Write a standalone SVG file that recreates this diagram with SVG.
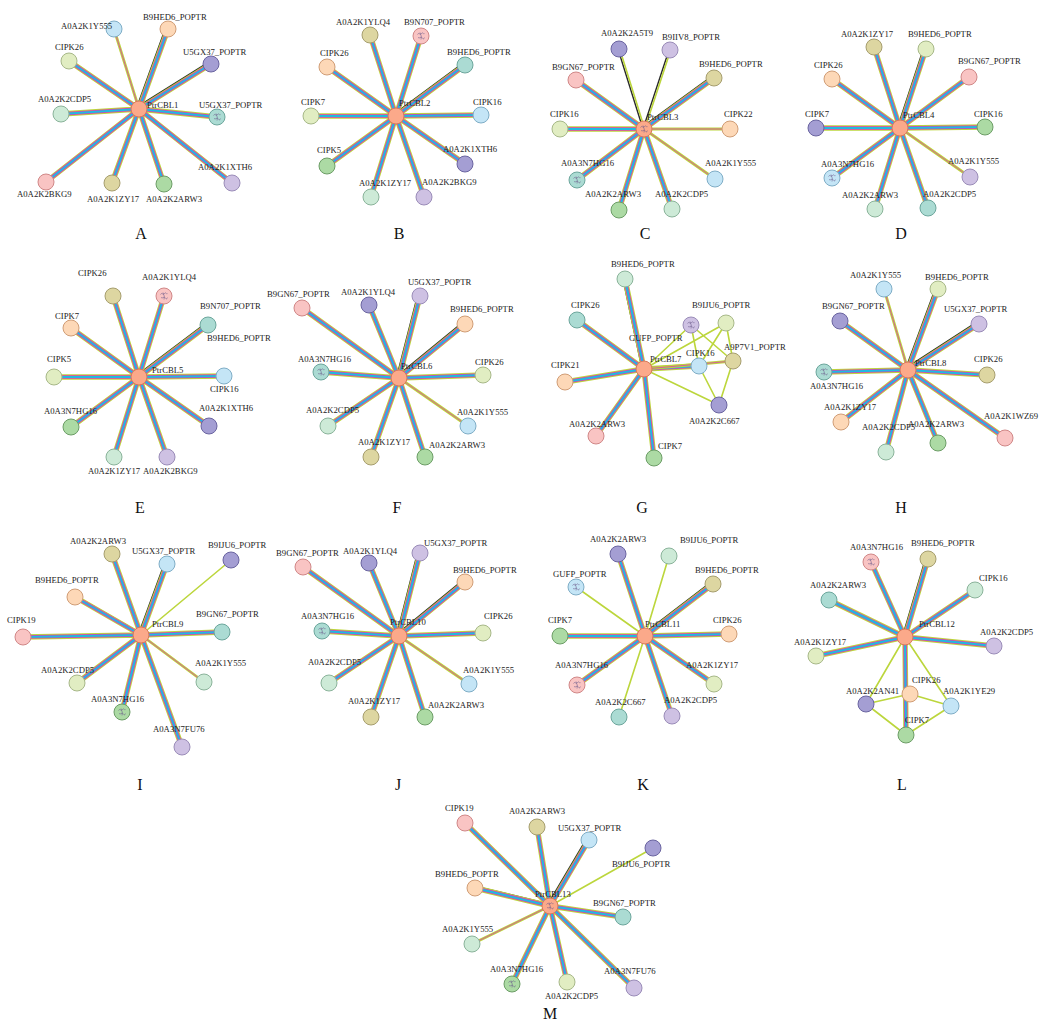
<svg xmlns="http://www.w3.org/2000/svg" xmlns:xlink="http://www.w3.org/1999/xlink" width="1040" height="1021" viewBox="0 0 1040 1021">
<style>
text{font-family:"Liberation Serif","Times New Roman",serif;font-size:8.7px;fill:#222}
.lt{font-size:16px;fill:#111;text-anchor:middle}
.n circle{stroke-width:1}
.ct{fill:#fba98a;stroke:#d8795b}
.lb{fill:#c4e5f6;stroke:#7fadc6}
.pe{fill:#fdd8b7;stroke:#d09d76}
.pu{fill:#a49ed3;stroke:#6a64a0}
.te{fill:#abdbd3;stroke:#6ca69c}
.yg{fill:#e1edc2;stroke:#a7b888}
.lg{fill:#cdead7;stroke:#8ab39a}
.pk{fill:#f9c4c3;stroke:#d08787}
.kh{fill:#ddd6a1;stroke:#a69e6e}
.gr{fill:#acdaa4;stroke:#6c9d66}
.la{fill:#cec1e3;stroke:#9a8cb8}
.icn{fill:none;stroke:#6a5a8a;stroke-width:0.7;opacity:0.8}
.k1{fill:none;stroke:#2a2a2a;stroke-width:3}
.g1{fill:none;stroke:#bcd63c;stroke-width:5.4}
.m1{fill:none;stroke:#db40b2;stroke-width:3.6}
.c1{fill:none;stroke:#1fbae2;stroke-width:2}
.g2{fill:none;stroke:#bcd63c;stroke-width:2.8}
.m2{fill:none;stroke:#db40b2;stroke-width:0.8}
.g3{fill:none;stroke:#bcd63c;stroke-width:1.6}
.k3{fill:none;stroke:#2a2a2a;stroke-width:1.4}
</style>
<defs>
<path id="fl" d="M139 109L69 61M139 109L61 114M139 109L217 117M139 109L232 183M139 109L46 182M139 109L112 183M139 109L164 184
M396 116L370 35M396 116L421 36M396 116L327 67M396 116L311 116M396 116L481 115M396 116L327 166M396 116L465 164M396 116L371 197M396 116L424 197
M644 129L576 80M644 129L560 129M644 129L577 180M644 129L619 210M644 129L672 209
M900 128L874 47M900 128L969 77M900 128L832 79M900 128L816 128M900 128L985 127M900 128L832 178M900 128L875 209M900 128L928 208
M139 377L113 296M139 377L164 296M139 377L71 328M139 377L54 377M139 377L224 376M139 377L71 427M139 377L209 426M139 377L114 457M139 377L167 457
M399 378L302 308M399 378L369 305M399 378L321 372M399 378L483 375M399 378L328 426M399 378L371 457M399 378L425 457
M644 369L577 320M644 369L565 382M644 369L596 436M644 369L654 458M644 369L699 366
M908 370L840 321M908 370L824 372M908 370L987 375M908 370L841 422M908 370L886 452M908 370L938 443M908 370L1005 438
M141 635L112 554M141 635L23 637M141 635L222 632M141 635L77 683M141 635L122 712M141 635L182 747
M399 636L303 567M399 636L369 563M399 636L322 631M399 636L483 633M399 636L329 683M399 636L371 717M399 636L425 717
M645 636L618 554M645 636L560 636M645 636L729 634M645 636L577 685M645 636L714 684M645 636L672 716
M905 637L871 562M905 637L975 590M905 637L829 600M905 637L994 646M905 637L816 656M905 637L906 735
M550 906L465 823M550 906L537 827M550 906L623 917M550 906L512 984M550 906L567 982M550 906L634 988"/>
<path id="dk" d="M139 109L168 29M139 109L211 64M396 116L465 65M644 129L714 78M900 128L926 49M139 377L208 325M399 378L420 296M399 378L465 324M644 369L625 279M908 370L938 289M908 370L979 324M141 635L167 564M141 635L75 597M399 636L420 553M399 636L465 582M645 636L713 584M905 637L928 559M550 906L589 840M550 906L475 888"/>
<path id="dn" d="M644 129L619 49M644 129L670 50"/>
<path id="tw" d="M139 109L114 29M644 129L730 129M644 129L715 179M900 128L970 177M399 378L468 426M644 369L733 361M908 370L884 289M141 635L204 682M399 636L469 684M550 906L472 944"/>
<path id="th" d="M644 369L691 325M644 369L726 323M644 369L719 405M691 325L699 366M691 325L733 361M726 323L699 366M726 323L733 361M699 366L719 405M733 361L719 405
M141 635L231 560
M645 636L669 556M645 636L576 587M645 636L619 717
M905 637L866 704M905 637L951 706M866 704L910 694M910 694L951 706M866 704L906 735M951 706L906 735
M550 906L653 848"/>
<path id="ic" d="M-3.5 -1.5c1.5-2.5 2.5 1 4-1s2 1.5 3 0M-3 1.5c1.5 1.5 3-1.5 4.5 0.5s1.5 0 2-0.5M-1 -3.5c0.5 2 2 4 1 7"/>
</defs>

<g id="connectors">
<use href="#dk" class="k1" transform="translate(-1.4,-1.4)"/>
<use href="#dn" class="k3" transform="translate(-1,0)"/>
<use href="#dn" class="g3" transform="translate(0.7,0)"/>
<use href="#fl" class="g1"/><use href="#dk" class="g1"/>
<use href="#fl" class="m1"/><use href="#dk" class="m1"/>
<use href="#fl" class="c1"/><use href="#dk" class="c1"/>
<use href="#tw" class="g2"/><use href="#tw" class="m2"/>
<use href="#th" class="g3"/>
</g>

<!-- Panel A -->
<g id="A-nodes">
<g id="A-Y555" class="n"><circle class="lb" cx="114" cy="29" r="8"/><text x="61" y="28.5">A0A2K1Y555</text></g>
<g id="A-B9HED6" class="n"><circle class="pe" cx="168" cy="29" r="8"/><text x="143" y="20">B9HED6_POPTR</text></g>
<g id="A-U5GX37a" class="n"><circle class="pu" cx="211" cy="64" r="8"/><text x="183" y="55">U5GX37_POPTR</text></g>
<g id="A-CIPK26" class="n"><circle class="yg" cx="69" cy="61" r="8"/><text x="55" y="50">CIPK26</text></g>
<g id="A-CDP5" class="n"><circle class="lg" cx="61" cy="114" r="8"/><text x="38" y="102">A0A2K2CDP5</text></g>
<g id="A-U5GX37b" class="n"><circle class="te" cx="217" cy="117" r="8"/><use href="#ic" x="217" y="117" class="icn"/><text x="199" y="107.5">U5GX37_POPTR</text></g>
<g id="A-XTH6" class="n"><circle class="la" cx="232" cy="183" r="8"/><text x="198" y="170">A0A2K1XTH6</text></g>
<g id="A-BKG9" class="n"><circle class="pk" cx="46" cy="182" r="8"/><text x="17" y="197">A0A2K2BKG9</text></g>
<g id="A-ZY17" class="n"><circle class="kh" cx="112" cy="183" r="8"/><text x="87" y="202">A0A2K1ZY17</text></g>
<g id="A-ARW3" class="n"><circle class="gr" cx="164" cy="184" r="8"/><text x="146" y="202">A0A2K2ARW3</text></g>
<g id="A-CBL1" class="n"><circle class="ct" cx="139" cy="109" r="8"/><text x="147" y="108">PtrCBL1</text></g>
</g>

<!-- Panel B -->
<g id="B-nodes">
<g id="B-YLQ4" class="n"><circle class="kh" cx="370" cy="35" r="8"/><text x="336" y="25">A0A2K1YLQ4</text></g>
<g id="B-B9N707" class="n"><circle class="pk" cx="421" cy="36" r="8"/><use href="#ic" x="421" y="36" class="icn"/><text x="404" y="25">B9N707_POPTR</text></g>
<g id="B-B9HED6" class="n"><circle class="te" cx="465" cy="65" r="8"/><text x="447" y="55">B9HED6_POPTR</text></g>
<g id="B-CIPK26" class="n"><circle class="pe" cx="327" cy="67" r="8"/><text x="320" y="56">CIPK26</text></g>
<g id="B-CIPK7" class="n"><circle class="yg" cx="311" cy="116" r="8"/><text x="301" y="105">CIPK7</text></g>
<g id="B-CIPK16" class="n"><circle class="lb" cx="481" cy="115" r="8"/><text x="473" y="105">CIPK16</text></g>
<g id="B-CIPK5" class="n"><circle class="gr" cx="327" cy="166" r="8"/><text x="317" y="153">CIPK5</text></g>
<g id="B-XTH6" class="n"><circle class="pu" cx="465" cy="164" r="8"/><text x="443" y="152">A0A2K1XTH6</text></g>
<g id="B-ZY17" class="n"><circle class="lg" cx="371" cy="197" r="8"/><text x="359" y="186">A0A2K1ZY17</text></g>
<g id="B-BKG9" class="n"><circle class="la" cx="424" cy="197" r="8"/><text x="422" y="185">A0A2K2BKG9</text></g>
<g id="B-CBL2" class="n"><circle class="ct" cx="396" cy="116" r="8"/><text x="399" y="106">PtrCBL2</text></g>
</g>

<!-- Panel C -->
<g id="C-nodes">
<g id="C-A5T9" class="n"><circle class="pu" cx="619" cy="49" r="8"/><text x="601" y="36">A0A2K2A5T9</text></g>
<g id="C-B9IIV8" class="n"><circle class="la" cx="670" cy="50" r="8"/><text x="662" y="40">B9IIV8_POPTR</text></g>
<g id="C-B9HED6" class="n"><circle class="kh" cx="714" cy="78" r="8"/><text x="699" y="67">B9HED6_POPTR</text></g>
<g id="C-B9GN67" class="n"><circle class="pk" cx="576" cy="80" r="8"/><text x="552" y="70">B9GN67_POPTR</text></g>
<g id="C-CIPK16" class="n"><circle class="yg" cx="560" cy="129" r="8"/><text x="550" y="117">CIPK16</text></g>
<g id="C-CIPK22" class="n"><circle class="pe" cx="730" cy="129" r="8"/><text x="724" y="117">CIPK22</text></g>
<g id="C-HG16" class="n"><circle class="te" cx="577" cy="180" r="8"/><use href="#ic" x="577" y="180" class="icn"/><text x="561" y="166">A0A3N7HG16</text></g>
<g id="C-Y555" class="n"><circle class="lb" cx="715" cy="179" r="8"/><text x="705" y="166">A0A2K1Y555</text></g>
<g id="C-ARW3" class="n"><circle class="gr" cx="619" cy="210" r="8"/><text x="585" y="197">A0A2K2ARW3</text></g>
<g id="C-CDP5" class="n"><circle class="lg" cx="672" cy="209" r="8"/><text x="655" y="197">A0A2K2CDP5</text></g>
<g id="C-CBL3" class="n"><circle class="ct" cx="644" cy="129" r="8"/><use href="#ic" x="644" y="129" class="icn"/><text x="647" y="120">PtrCBL3</text></g>
</g>

<!-- Panel D -->
<g id="D-nodes">
<g id="D-ZY17" class="n"><circle class="kh" cx="874" cy="47" r="8"/><text x="841" y="37">A0A2K1ZY17</text></g>
<g id="D-B9HED6" class="n"><circle class="yg" cx="926" cy="49" r="8"/><text x="908" y="37">B9HED6_POPTR</text></g>
<g id="D-B9GN67" class="n"><circle class="pk" cx="969" cy="77" r="8"/><text x="958" y="64">B9GN67_POPTR</text></g>
<g id="D-CIPK26" class="n"><circle class="pe" cx="832" cy="79" r="8"/><text x="814" y="68">CIPK26</text></g>
<g id="D-CIPK7" class="n"><circle class="pu" cx="816" cy="128" r="8"/><text x="805" y="117">CIPK7</text></g>
<g id="D-CIPK16" class="n"><circle class="gr" cx="985" cy="127" r="8"/><text x="974" y="117">CIPK16</text></g>
<g id="D-HG16" class="n"><circle class="lb" cx="832" cy="178" r="8"/><use href="#ic" x="832" y="178" class="icn"/><text x="821" y="167">A0A3N7HG16</text></g>
<g id="D-Y555" class="n"><circle class="la" cx="970" cy="177" r="8"/><text x="948" y="164">A0A2K1Y555</text></g>
<g id="D-ARW3" class="n"><circle class="lg" cx="875" cy="209" r="8"/><text x="842" y="198">A0A2K2ARW3</text></g>
<g id="D-CDP5" class="n"><circle class="te" cx="928" cy="208" r="8"/><text x="923" y="197">A0A2K2CDP5</text></g>
<g id="D-CBL4" class="n"><circle class="ct" cx="900" cy="128" r="8"/><text x="903" y="118">PtrCBL4</text></g>
</g>

<!-- Panel E -->
<g id="E-nodes">
<g id="E-CIPK26" class="n"><circle class="kh" cx="113" cy="296" r="8"/><text x="78" y="276">CIPK26</text></g>
<g id="E-YLQ4" class="n"><circle class="pk" cx="164" cy="296" r="8"/><use href="#ic" x="164" y="296" class="icn"/><text x="142" y="280">A0A2K1YLQ4</text></g>
<g id="E-B9N707" class="n"><circle class="te" cx="208" cy="325" r="8"/><text x="200" y="309">B9N707_POPTR</text></g>
<g id="E-B9HED6" class="n"><text x="207" y="341">B9HED6_POPTR</text></g>
<g id="E-CIPK7" class="n"><circle class="pe" cx="71" cy="328" r="8"/><text x="55" y="319">CIPK7</text></g>
<g id="E-CIPK5" class="n"><circle class="yg" cx="54" cy="377" r="8"/><text x="47" y="362">CIPK5</text></g>
<g id="E-CIPK16" class="n"><circle class="lb" cx="224" cy="376" r="8"/><text x="210" y="392">CIPK16</text></g>
<g id="E-HG16" class="n"><circle class="gr" cx="71" cy="427" r="8"/><text x="44" y="414">A0A3N7HG16</text></g>
<g id="E-XTH6" class="n"><circle class="pu" cx="209" cy="426" r="8"/><text x="199" y="411">A0A2K1XTH6</text></g>
<g id="E-ZY17" class="n"><circle class="lg" cx="114" cy="457" r="8"/><text x="88" y="474">A0A2K1ZY17</text></g>
<g id="E-BKG9" class="n"><circle class="la" cx="167" cy="457" r="8"/><text x="143" y="474">A0A2K2BKG9</text></g>
<g id="E-CBL5" class="n"><circle class="ct" cx="139" cy="377" r="8"/><text x="152" y="373">PtrCBL5</text></g>
</g>

<!-- Panel F -->
<g id="F-nodes">
<g id="F-B9GN67" class="n"><circle class="pk" cx="302" cy="308" r="8"/><text x="267" y="297">B9GN67_POPTR</text></g>
<g id="F-YLQ4" class="n"><circle class="pu" cx="369" cy="305" r="8"/><text x="341" y="295">A0A2K1YLQ4</text></g>
<g id="F-U5GX37" class="n"><circle class="la" cx="420" cy="296" r="8"/><text x="408" y="285">U5GX37_POPTR</text></g>
<g id="F-B9HED6" class="n"><circle class="pe" cx="465" cy="324" r="8"/><text x="450" y="312">B9HED6_POPTR</text></g>
<g id="F-HG16" class="n"><circle class="te" cx="321" cy="372" r="8"/><use href="#ic" x="321" y="372" class="icn"/><text x="298" y="362">A0A3N7HG16</text></g>
<g id="F-CIPK26" class="n"><circle class="yg" cx="483" cy="375" r="8"/><text x="475" y="365">CIPK26</text></g>
<g id="F-CDP5" class="n"><circle class="lg" cx="328" cy="426" r="8"/><text x="306" y="413">A0A2K2CDP5</text></g>
<g id="F-Y555" class="n"><circle class="lb" cx="468" cy="426" r="8"/><text x="457" y="415">A0A2K1Y555</text></g>
<g id="F-ZY17" class="n"><circle class="kh" cx="371" cy="457" r="8"/><text x="358" y="445">A0A2K1ZY17</text></g>
<g id="F-ARW3" class="n"><circle class="gr" cx="425" cy="457" r="8"/><text x="429" y="448">A0A2K2ARW3</text></g>
<g id="F-CBL6" class="n"><circle class="ct" cx="399" cy="378" r="8"/><text x="401" y="369">PtrCBL6</text></g>
</g>

<!-- Panel G -->
<g id="G-nodes">
<g id="G-B9HED6" class="n"><circle class="lg" cx="625" cy="279" r="8"/><text x="611" y="267">B9HED6_POPTR</text></g>
<g id="G-CIPK26" class="n"><circle class="te" cx="577" cy="320" r="8"/><text x="571" y="308">CIPK26</text></g>
<g id="G-B9IJU6" class="n"><circle class="la" cx="691" cy="325" r="8"/><use href="#ic" x="691" y="325" class="icn"/><text x="692" y="308">B9IJU6_POPTR</text></g>
<g id="G-GUFP" class="n"><circle class="yg" cx="726" cy="323" r="8"/><text x="629" y="341">GUFP_POPTR</text></g>
<g id="G-A9P7V1" class="n"><circle class="kh" cx="733" cy="361" r="8"/><text x="724" y="350">A9P7V1_POPTR</text></g>
<g id="G-CIPK16" class="n"><circle class="lb" cx="699" cy="366" r="8"/><text x="686" y="356">CIPK16</text></g>
<g id="G-CIPK21" class="n"><circle class="pe" cx="565" cy="382" r="8"/><text x="551" y="368">CIPK21</text></g>
<g id="G-C667" class="n"><circle class="pu" cx="719" cy="405" r="8"/><text x="689" y="424">A0A2K2C667</text></g>
<g id="G-ARW3" class="n"><circle class="pk" cx="596" cy="436" r="8"/><text x="569" y="427">A0A2K2ARW3</text></g>
<g id="G-CIPK7" class="n"><circle class="gr" cx="654" cy="458" r="8"/><text x="658" y="449">CIPK7</text></g>
<g id="G-CBL7" class="n"><circle class="ct" cx="644" cy="369" r="8"/><text x="650" y="362">PtrCBL7</text></g>
</g>

<!-- Panel H -->
<g id="H-nodes">
<g id="H-Y555" class="n"><circle class="lb" cx="884" cy="289" r="8"/><text x="850" y="278">A0A2K1Y555</text></g>
<g id="H-B9HED6" class="n"><circle class="yg" cx="938" cy="289" r="8"/><text x="925" y="280">B9HED6_POPTR</text></g>
<g id="H-U5GX37" class="n"><circle class="la" cx="979" cy="324" r="8"/><text x="944" y="312">U5GX37_POPTR</text></g>
<g id="H-B9GN67" class="n"><circle class="pu" cx="840" cy="321" r="8"/><text x="822" y="309">B9GN67_POPTR</text></g>
<g id="H-HG16" class="n"><circle class="te" cx="824" cy="372" r="8"/><use href="#ic" x="824" y="372" class="icn"/><text x="810" y="389">A0A3N7HG16</text></g>
<g id="H-CIPK26" class="n"><circle class="kh" cx="987" cy="375" r="8"/><text x="974" y="362">CIPK26</text></g>
<g id="H-ZY17" class="n"><circle class="pe" cx="841" cy="422" r="8"/><text x="824" y="410">A0A2K1ZY17</text></g>
<g id="H-CDP5" class="n"><circle class="lg" cx="886" cy="452" r="8"/><text x="862" y="430">A0A2K2CDP5</text></g>
<g id="H-ARW3" class="n"><circle class="gr" cx="938" cy="443" r="8"/><text x="908" y="427">A0A2K2ARW3</text></g>
<g id="H-WZ69" class="n"><circle class="pk" cx="1005" cy="438" r="8"/><text x="984" y="419">A0A2K1WZ69</text></g>
<g id="H-CBL8" class="n"><circle class="ct" cx="908" cy="370" r="8"/><text x="915" y="366">PtrCBL8</text></g>
</g>

<!-- Panel I -->
<g id="I-nodes">
<g id="I-ARW3" class="n"><circle class="kh" cx="112" cy="554" r="8"/><text x="70" y="544">A0A2K2ARW3</text></g>
<g id="I-U5GX37" class="n"><circle class="lb" cx="167" cy="564" r="8"/><text x="132" y="554">U5GX37_POPTR</text></g>
<g id="I-B9IJU6" class="n"><circle class="pu" cx="231" cy="560" r="8"/><text x="208" y="548">B9IJU6_POPTR</text></g>
<g id="I-B9HED6" class="n"><circle class="pe" cx="75" cy="597" r="8"/><text x="35" y="583">B9HED6_POPTR</text></g>
<g id="I-CIPK19" class="n"><circle class="pk" cx="23" cy="637" r="8"/><text x="7" y="623">CIPK19</text></g>
<g id="I-B9GN67" class="n"><circle class="te" cx="222" cy="632" r="8"/><text x="196" y="617">B9GN67_POPTR</text></g>
<g id="I-CDP5" class="n"><circle class="yg" cx="77" cy="683" r="8"/><text x="41" y="673">A0A2K2CDP5</text></g>
<g id="I-Y555" class="n"><circle class="lg" cx="204" cy="682" r="8"/><text x="195" y="666">A0A2K1Y555</text></g>
<g id="I-HG16" class="n"><circle class="gr" cx="122" cy="712" r="8"/><use href="#ic" x="122" y="712" class="icn"/><text x="91" y="702">A0A3N7HG16</text></g>
<g id="I-FU76" class="n"><circle class="la" cx="182" cy="747" r="8"/><text x="153" y="732">A0A3N7FU76</text></g>
<g id="I-CBL9" class="n"><circle class="ct" cx="141" cy="635" r="8"/><text x="152" y="627">PtrCBL9</text></g>
</g>

<!-- Panel J -->
<g id="J-nodes">
<g id="J-B9GN67" class="n"><circle class="pk" cx="303" cy="567" r="8"/><text x="276" y="556">B9GN67_POPTR</text></g>
<g id="J-YLQ4" class="n"><circle class="pu" cx="369" cy="563" r="8"/><text x="343" y="554">A0A2K1YLQ4</text></g>
<g id="J-U5GX37" class="n"><circle class="la" cx="420" cy="553" r="8"/><text x="424" y="546">U5GX37_POPTR</text></g>
<g id="J-B9HED6" class="n"><circle class="pe" cx="465" cy="582" r="8"/><text x="453" y="573">B9HED6_POPTR</text></g>
<g id="J-HG16" class="n"><circle class="te" cx="322" cy="631" r="8"/><use href="#ic" x="322" y="631" class="icn"/><text x="301" y="619">A0A3N7HG16</text></g>
<g id="J-CIPK26" class="n"><circle class="yg" cx="483" cy="633" r="8"/><text x="484" y="619">CIPK26</text></g>
<g id="J-CDP5" class="n"><circle class="lg" cx="329" cy="683" r="8"/><text x="308" y="665">A0A2K2CDP5</text></g>
<g id="J-Y555" class="n"><circle class="lb" cx="469" cy="684" r="8"/><text x="463" y="673">A0A2K1Y555</text></g>
<g id="J-ZY17" class="n"><circle class="kh" cx="371" cy="717" r="8"/><text x="348" y="704">A0A2K1ZY17</text></g>
<g id="J-ARW3" class="n"><circle class="gr" cx="425" cy="717" r="8"/><text x="428" y="708">A0A2K2ARW3</text></g>
<g id="J-CBL10" class="n"><circle class="ct" cx="399" cy="636" r="8"/><text x="390" y="625">PtrCBL10</text></g>
</g>

<!-- Panel K -->
<g id="K-nodes">
<g id="K-ARW3" class="n"><circle class="pu" cx="618" cy="554" r="8"/><text x="590" y="542">A0A2K2ARW3</text></g>
<g id="K-B9IJU6" class="n"><circle class="lg" cx="669" cy="556" r="8"/><text x="680" y="543">B9IJU6_POPTR</text></g>
<g id="K-B9HED6" class="n"><circle class="kh" cx="713" cy="584" r="8"/><text x="695" y="573">B9HED6_POPTR</text></g>
<g id="K-GUFP" class="n"><circle class="lb" cx="576" cy="587" r="8"/><use href="#ic" x="576" y="587" class="icn"/><text x="553" y="577">GUFP_POPTR</text></g>
<g id="K-CIPK7" class="n"><circle class="gr" cx="560" cy="636" r="8"/><text x="548" y="623">CIPK7</text></g>
<g id="K-CIPK26" class="n"><circle class="pe" cx="729" cy="634" r="8"/><text x="713" y="623">CIPK26</text></g>
<g id="K-HG16" class="n"><circle class="pk" cx="577" cy="685" r="8"/><use href="#ic" x="577" y="685" class="icn"/><text x="555" y="668">A0A3N7HG16</text></g>
<g id="K-ZY17" class="n"><circle class="yg" cx="714" cy="684" r="8"/><text x="686" y="668">A0A2K1ZY17</text></g>
<g id="K-C667" class="n"><circle class="te" cx="619" cy="717" r="8"/><text x="595" y="705">A0A2K2C667</text></g>
<g id="K-CDP5" class="n"><circle class="la" cx="672" cy="716" r="8"/><text x="664" y="703">A0A2K2CDP5</text></g>
<g id="K-CBL11" class="n"><circle class="ct" cx="645" cy="636" r="8"/><text x="645" y="627">PtrCBL11</text></g>
</g>

<!-- Panel L -->
<g id="L-nodes">
<g id="L-HG16" class="n"><circle class="pk" cx="871" cy="562" r="8"/><use href="#ic" x="871" y="562" class="icn"/><text x="850" y="550">A0A3N7HG16</text></g>
<g id="L-B9HED6" class="n"><circle class="kh" cx="928" cy="559" r="8"/><text x="911" y="546">B9HED6_POPTR</text></g>
<g id="L-CIPK16" class="n"><circle class="lg" cx="975" cy="590" r="8"/><text x="979" y="581">CIPK16</text></g>
<g id="L-ARW3" class="n"><circle class="te" cx="829" cy="600" r="8"/><text x="810" y="588">A0A2K2ARW3</text></g>
<g id="L-CDP5" class="n"><circle class="la" cx="994" cy="646" r="8"/><text x="980" y="635">A0A2K2CDP5</text></g>
<g id="L-ZY17" class="n"><circle class="yg" cx="816" cy="656" r="8"/><text x="794" y="645">A0A2K1ZY17</text></g>
<g id="L-CIPK26" class="n"><circle class="pe" cx="910" cy="694" r="8"/><text x="912" y="683">CIPK26</text></g>
<g id="L-AN41" class="n"><circle class="pu" cx="866" cy="704" r="8"/><text x="846" y="694">A0A2K2AN41</text></g>
<g id="L-YE29" class="n"><circle class="lb" cx="951" cy="706" r="8"/><text x="943" y="694">A0A2K1YE29</text></g>
<g id="L-CIPK7" class="n"><circle class="gr" cx="906" cy="735" r="8"/><text x="905" y="723">CIPK7</text></g>
<g id="L-CBL12" class="n"><circle class="ct" cx="905" cy="637" r="8"/><text x="919" y="627">PtrCBL12</text></g>
</g>

<!-- Panel M -->
<g id="M-nodes">
<g id="M-CIPK19" class="n"><circle class="pk" cx="465" cy="823" r="8"/><text x="445" y="811">CIPK19</text></g>
<g id="M-ARW3" class="n"><circle class="kh" cx="537" cy="827" r="8"/><text x="509" y="814">A0A2K2ARW3</text></g>
<g id="M-U5GX37" class="n"><circle class="lb" cx="589" cy="840" r="8"/><text x="558" y="831">U5GX37_POPTR</text></g>
<g id="M-B9IJU6" class="n"><circle class="pu" cx="653" cy="848" r="8"/><text x="612" y="867">B9IJU6_POPTR</text></g>
<g id="M-B9HED6" class="n"><circle class="pe" cx="475" cy="888" r="8"/><text x="435" y="877">B9HED6_POPTR</text></g>
<g id="M-B9GN67" class="n"><circle class="te" cx="623" cy="917" r="8"/><text x="593" y="906">B9GN67_POPTR</text></g>
<g id="M-Y555" class="n"><circle class="lg" cx="472" cy="944" r="8"/><text x="442" y="932">A0A2K1Y555</text></g>
<g id="M-HG16" class="n"><circle class="gr" cx="512" cy="984" r="8"/><use href="#ic" x="512" y="984" class="icn"/><text x="490" y="972">A0A3N7HG16</text></g>
<g id="M-CDP5" class="n"><circle class="yg" cx="567" cy="982" r="8"/><text x="545" y="999">A0A2K2CDP5</text></g>
<g id="M-FU76" class="n"><circle class="la" cx="634" cy="988" r="8"/><text x="604" y="974">A0A3N7FU76</text></g>
<g id="M-CBL13" class="n"><circle class="ct" cx="550" cy="906" r="8"/><use href="#ic" x="550" y="906" class="icn"/><text x="535" y="897">PtrCBL13</text></g>
</g>

<g id="panel-letters">
<text class="lt" x="141" y="239">A</text>
<text class="lt" x="399" y="239">B</text>
<text class="lt" x="645" y="239">C</text>
<text class="lt" x="901" y="239">D</text>
<text class="lt" x="140" y="513">E</text>
<text class="lt" x="397" y="513">F</text>
<text class="lt" x="642" y="513">G</text>
<text class="lt" x="901" y="513">H</text>
<text class="lt" x="140" y="790">I</text>
<text class="lt" x="398" y="790">J</text>
<text class="lt" x="643" y="790">K</text>
<text class="lt" x="902" y="790">L</text>
<text class="lt" x="550" y="1019">M</text>
</g>
</svg>
